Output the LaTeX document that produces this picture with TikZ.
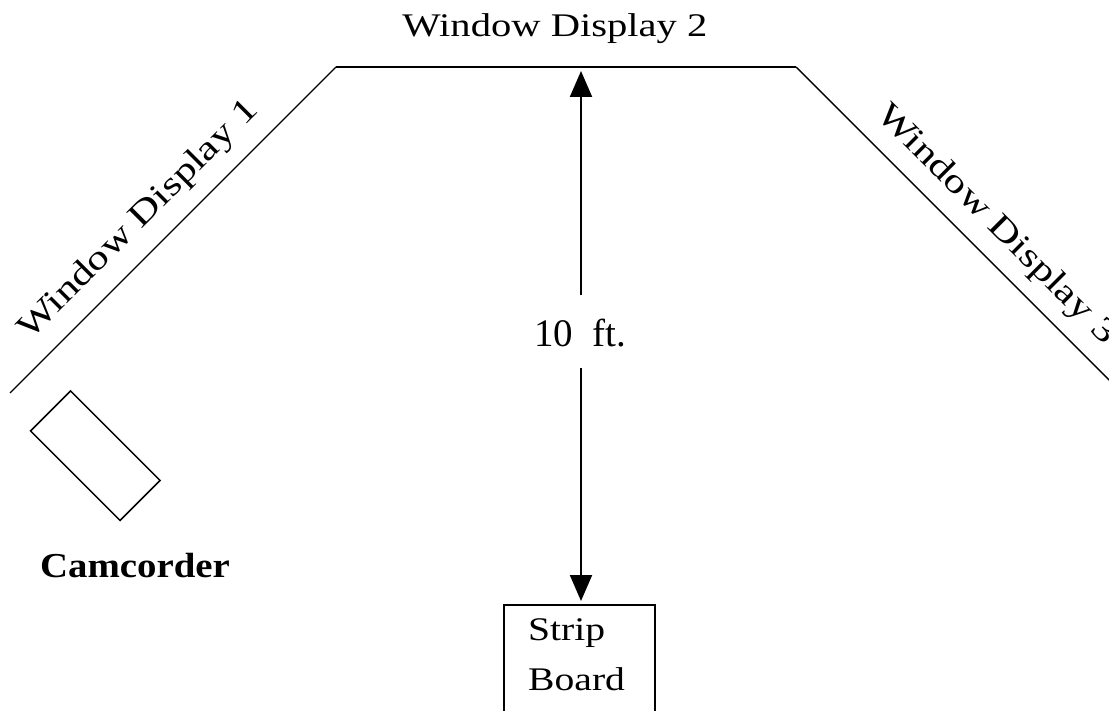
\documentclass[tikz,border=0pt]{standalone}
\usepackage{fontspec}
\setmainfont{Liberation Serif}
\usetikzlibrary{arrows.meta}
\tikzset{
  wall/.style={line width=1.4pt, line join=miter},
  toplinestyle/.style={line width=2pt},
  dimarrow/.style={line width=2pt, -{Triangle[width=22pt,length=26pt]}},
  boxstyle/.style={draw, line width=1.5pt, inner sep=0pt},
  lbl/.style={inner sep=0pt, anchor=base, font=\fontsize{33}{40}\selectfont},
}
\begin{document}
\begin{tikzpicture}[x=1pt,y=-1pt]
\useasboundingbox (0,0) rectangle (1109,711);
% walls
\coordinate (c1) at (10,393);
\coordinate (c2) at (336,67);
\coordinate (c3) at (796,67);
\coordinate (c4) at (1113,384);
\coordinate (wtop) at (581,67);
\draw[wall] (c1) -- (c2);
\draw[toplinestyle] (c2) -- (c3);
\draw[wall] (c3) -- (c4);
% labels of the windows
\node[lbl] (wd2) at (555,36.7) {\scalebox{1.23}[1]{Window Display 2}};
\node[lbl, font=\fontsize{34}{40}\selectfont, rotate=45] (wd1) at (145,226) {\scalebox{1.27}[1]{Window Display 1}};
\node[lbl, font=\fontsize{34}{40}\selectfont, rotate=-45] (wd3) at (990,231) {\scalebox{1.27}[1]{Window Display 3}};
% camcorder
\node[boxstyle, minimum width=126.6pt, minimum height=56.6pt, rotate=-45] (cam) at (95.3,455.7) {};
\node[lbl, font=\fontsize{35}{40}\selectfont\bfseries] (camlbl) at (135,577) {\scalebox{1.11}[1]{Camcorder}};
% strip board
\node[boxstyle, anchor=north west, minimum width=151pt, minimum height=140pt] (strip) at (503,604) {};
\node[lbl, anchor=base west] (striplbl) at (528,640) {\scalebox{1.2}[1]{Strip}};
\node[lbl, anchor=base west] (boardlbl) at (528,690) {\scalebox{1.2}[1]{Board}};
% dimension
\node[lbl, font=\fontsize{39}{44}\selectfont, text height=51pt, text depth=21pt] (ten) at (580,346.7) {10\hspace{19pt}ft.};
\draw[dimarrow, shorten >=4pt] (ten.north -| wtop) -- (wtop);
\draw[dimarrow, shorten >=3pt] (ten.south -| wtop) -- (strip.north -| wtop);
\end{tikzpicture}
\end{document}
